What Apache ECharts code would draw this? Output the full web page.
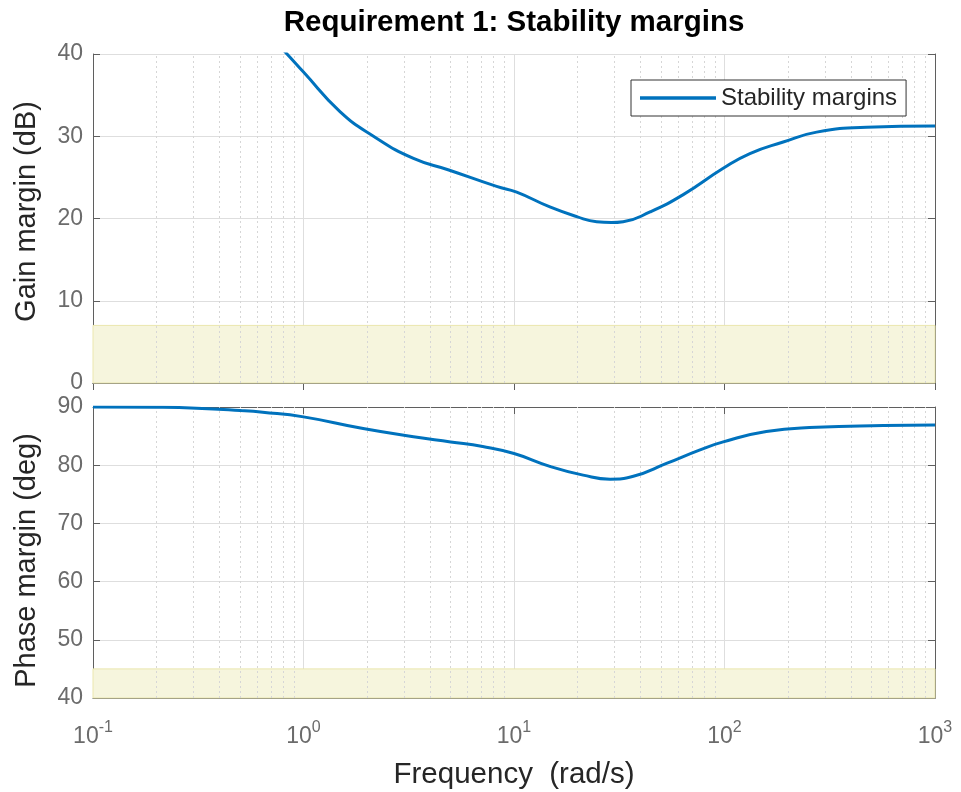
<!DOCTYPE html>
<html>
<head>
<meta charset="utf-8">
<script src="https://cdn.jsdelivr.net/npm/echarts@6/dist/echarts.min.js"></script>
<style>
html,body{margin:0;padding:0;background:#fff;}
#chart{width:961px;height:792px;}
</style>
</head>
<body>
<div id="chart"></div>
<script>
// ---- data ----
const titleText = 'Requirement 1: Stability margins';
const seriesName = 'Stability margins';
const xName = 'Frequency  (rad/s)';
const gainName = 'Gain margin (dB)';
const phaseName = 'Phase margin (deg)';

const gainFreq = [0.7, 0.835, 1.0, 1.49, 2.15, 3.33, 4.9, 8.27, 10.3, 14.8, 20, 24.7, 29, 33, 44.3, 63.7, 98.6, 132, 190, 274, 473, 1000];
const gainDb   = [42.1, 40, 37.8, 33.0, 30.0, 27.3, 25.9, 23.9, 23.2, 21.4, 20.2, 19.6, 19.5, 19.6, 20.8, 22.9, 26.1, 27.9, 29.3, 30.5, 31.1, 31.25];

const phaseFreq = [0.1, 0.2, 0.31, 0.5, 0.64, 1.0, 1.92, 3.33, 5.0, 7.1, 10, 14.8, 21.3, 28.6, 36.9, 53, 76, 98.6, 158, 274, 568, 1000];
const phaseDeg  = [90, 89.95, 89.8, 89.4, 89.1, 88.3, 86.3, 84.9, 84.0, 83.2, 82.0, 79.8, 78.3, 77.6, 78.1, 80.3, 82.6, 84.0, 85.8, 86.5, 86.8, 86.9];

const gainBound = [0, 7];     // shaded requirement region (dB)
const phaseBound = [40, 45];  // shaded requirement region (deg)

const xRange = [0.1, 1000];
const gainRange = [0, 40];
const phaseRange = [40, 90];
const yStep = 10;

// minor log grid positions (2..9 in each decade)
const decades = [0.1, 1, 10, 100];
const minorMult = [2, 3, 4, 5, 6, 7, 8, 9];
const minorX = [];
decades.forEach(d => minorMult.forEach(m => minorX.push(+(d * m).toPrecision(3))));

// ---- styling ----
const FONT = '"Liberation Sans", Arial, Helvetica, sans-serif';
const axisCol = '#5f5f5f';
const labCol = '#6b6b6b';
const gridCol = '#dedede';
const lineCol = '#0072BD';

const chart = echarts.init(document.getElementById('chart'), null, {renderer: 'canvas'});

function supLabel(v) {
  const e = Math.round(Math.log10(v));
  return '{b|10}{s|' + e + '}';
}
const richLab = {
  b: {fontSize: 23, color: labCol, fontFamily: FONT, verticalAlign: 'bottom'},
  s: {fontSize: 16, color: labCol, fontFamily: FONT, verticalAlign: 'bottom', padding: [0, 0, 12, 0]}
};

function xAxisMain(gridIndex, showLabels) {
  return {
    type: 'log', logBase: 10, gridIndex: gridIndex,
    min: xRange[0], max: xRange[1],
    name: showLabels ? xName : '',
    nameLocation: 'middle', nameGap: 62,
    nameTextStyle: {fontSize: 29.5, color: '#262626', fontFamily: FONT},
    axisLine: {show: true, lineStyle: {color: axisCol, width: 1}},
    axisTick: {show: true, inside: true, length: 7, lineStyle: {color: axisCol}},
    axisLabel: {show: showLabels, margin: 22, formatter: supLabel, rich: richLab},
    splitLine: {show: true, lineStyle: {color: gridCol, width: 1}},
    minorTick: {show: false}, minorSplitLine: {show: false}
  };
}
function xAxisTop(gridIndex) {
  return {
    type: 'log', logBase: 10, gridIndex: gridIndex, position: 'top',
    min: xRange[0], max: xRange[1],
    axisLine: {show: true, lineStyle: {color: axisCol, width: 1}},
    axisTick: {show: true, inside: true, length: 7, lineStyle: {color: axisCol}},
    axisLabel: {show: false}, splitLine: {show: false}
  };
}
function yAxisMain(gridIndex, range, name, pad) {
  return {
    type: 'value', gridIndex: gridIndex, min: range[0], max: range[1], interval: yStep,
    name: name, nameLocation: 'middle', nameGap: 52, nameRotate: 90,
    nameTextStyle: {fontSize: 29, color: '#262626', fontFamily: FONT, padding: pad},
    axisLine: {show: true, lineStyle: {color: axisCol, width: 1}},
    axisTick: {show: true, inside: true, length: 7, lineStyle: {color: axisCol}},
    axisLabel: {show: true, fontSize: 23, color: labCol, fontFamily: FONT, margin: 10},
    splitLine: {show: true, lineStyle: {color: gridCol, width: 1}}
  };
}
function yAxisRight(gridIndex, range) {
  return {
    type: 'value', gridIndex: gridIndex, position: 'right', min: range[0], max: range[1], interval: yStep,
    axisLine: {show: true, lineStyle: {color: axisCol, width: 1}},
    axisTick: {show: true, inside: true, length: 7, lineStyle: {color: axisCol}},
    axisLabel: {show: false}, splitLine: {show: false}
  };
}

const minorLine = {
  silent: true, symbol: ['none', 'none'], z: 1,
  label: {show: false},
  emphasis: {disabled: true},
  lineStyle: {type: [2, 3], color: '#d6d6d6', width: 1},
  data: minorX.map(v => ({xAxis: v}))
};
function bandArea(bound) {
  return {
    silent: true, z: 1,
    itemStyle: {color: '#f6f5dd', borderColor: '#ebe7ae', borderWidth: 1},
    data: [[{xAxis: xRange[0], yAxis: bound[0]}, {xAxis: xRange[1], yAxis: bound[1]}]]
  };
}

const option = {
  animation: false,
  backgroundColor: '#ffffff',
  textStyle: {fontFamily: FONT},
  title: {
    text: titleText, left: 509, textAlign: 'center', top: 3,
    textStyle: {fontSize: 29.5, fontWeight: 'bold', color: '#000', fontFamily: FONT}
  },
  legend: {
    show: true, left: 631, top: 80,
    data: [seriesName],
    icon: 'rect', itemWidth: 76, itemHeight: 3.5, itemGap: 6,
    padding: [6, 9, 6, 9],
    backgroundColor: '#fff', borderColor: '#333', borderWidth: 1, borderRadius: 0,
    textStyle: {fontSize: 24, color: '#262626', fontFamily: FONT}
  },
  grid: [
    {left: 93, right: 26, top: 54, height: 329, show: false},
    {left: 93, right: 26, top: 407, height: 291, show: false}
  ],
  xAxis: [xAxisMain(0, false), xAxisMain(1, true), xAxisTop(0), xAxisTop(1)],
  yAxis: [yAxisMain(0, gainRange, gainName, [0, 0, 0, 14]), yAxisMain(1, phaseRange, phaseName, [0, 16, 0, 0]),
          yAxisRight(0, gainRange), yAxisRight(1, phaseRange)],
  series: [
    {
      name: seriesName, type: 'line', xAxisIndex: 0, yAxisIndex: 0,
      data: gainFreq.map((f, i) => [f, gainDb[i]]),
      showSymbol: false, symbol: 'none', smooth: 0.5, clip: true,
      lineStyle: {color: lineCol, width: 3}, itemStyle: {color: lineCol},
      z: 3,
      markLine: minorLine,
      markArea: bandArea(gainBound)
    },
    {
      name: seriesName, type: 'line', xAxisIndex: 1, yAxisIndex: 1,
      data: phaseFreq.map((f, i) => [f, phaseDeg[i]]),
      showSymbol: false, symbol: 'none', smooth: 0.5, clip: true,
      lineStyle: {color: lineCol, width: 3}, itemStyle: {color: lineCol},
      z: 3,
      markLine: minorLine,
      markArea: bandArea(phaseBound)
    }
  ]
};
chart.setOption(option);
</script>
</body>
</html>
